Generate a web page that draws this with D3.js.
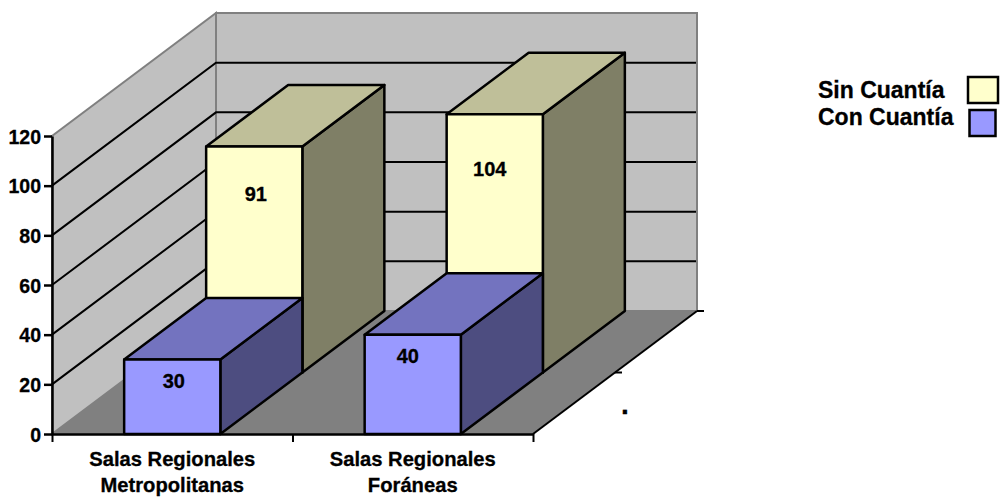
<!DOCTYPE html>
<html>
<head>
<meta charset="utf-8">
<script src="https://cdn.jsdelivr.net/npm/d3@7"></script>
<style>
    body { margin: 0; background: #fff; }
    text { font-family: "Liberation Sans", Arial, sans-serif; font-weight: bold; fill: #000; stroke: #000; stroke-width: 0.3px; }
</style>
</head>
<body>
<script>
// stacked-in-depth 3D columns, one row per series

var categories = [["Salas Regionales", "Metropolitanas"], ["Salas Regionales", "Foráneas"]];
var seriesNames = ["Con Cuantía", "Sin Cuantía"];
var conCuantia = [30, 40];
var sinCuantia = [91, 104];
var yTicks = [0, 20, 40, 60, 80, 100, 120];
var depthLabel = ".";

var seriesValues = [conCuantia, sinCuantia];
var faceColors = [
    { front: "#9999ff", top: "#7373bf", side: "#4d4d80" },
    { front: "#ffffcc", top: "#bfbf99", side: "#7f7f66" }
];

var width = 1001, height = 498;
var left = 52, right = 533, top0 = 136, bottom = 434;

var svg = d3.select("body")
    .append("svg")
    .attr("width", width)
    .attr("height", height)
    .style("display", "block");

// ---------------------------//
//       SCALES               //
// ---------------------------//

var x = d3.scaleBand()
    .domain(d3.range(categories.length))
    .range([left, right])
    .paddingInner(0.6)
    .paddingOuter(0.3);

var y = d3.scaleLinear()
    .domain([0, 120])
    .range([bottom, top0]);

// depth runs from the front of the floor (0) to the back wall (1)
var depth = d3.scaleBand()
    .domain(d3.range(seriesNames.length))
    .range([0, 1]);
var depthX = d3.scaleLinear().domain([0, 1]).range([0, 164]);
var depthY = d3.scaleLinear().domain([0, 1]).range([0, -123]);

function pt(px, py, d) {
    return [px + depthX(d), py + depthY(d)];
}

var polygon = d3.line();
function face(points) {
    return polygon(points) + "Z";
}

// ---------------------------//
//       WALLS AND FLOOR      //
// ---------------------------//

var walls = svg.append("g");

walls.append("path")
    .attr("d", face([pt(left, bottom, 0), pt(left, top0, 0), pt(left, top0, 1), pt(left, bottom, 1)]))
    .attr("fill", "#c0c0c0")
    .attr("stroke", "#808080")
    .attr("stroke-width", 2);

walls.append("path")
    .attr("d", face([pt(left, bottom, 1), pt(left, top0, 1), pt(right, top0, 1), pt(right, bottom, 1)]))
    .attr("fill", "#c0c0c0")
    .attr("stroke", "#808080")
    .attr("stroke-width", 2);

walls.append("path")
    .attr("d", face([pt(left, bottom, 0), pt(right, bottom, 0), pt(right, bottom, 1), pt(left, bottom, 1)]))
    .attr("fill", "#808080");

// gridlines on both walls
var grid = yTicks.filter(function(d) { return d > 0 && d < 120; });
walls.selectAll("path.grid")
    .data(grid)
    .enter()
    .append("path")
    .attr("class", "grid")
    .attr("d", function(d) {
        return polygon([pt(left, y(d), 0), pt(left, y(d), 1), pt(right - 1, y(d), 1)]);
    })
    .attr("fill", "none")
    .attr("stroke", "#000")
    .attr("stroke-width", 2);

// ---------------------------//
//       COLUMNS              //
// ---------------------------//

// back row first so the front row paints over it
var bars = svg.append("g");
d3.range(seriesNames.length).reverse().forEach(function(s) {
    categories.forEach(function(c, i) {
        var x0 = x(i), x1 = x(i) + x.bandwidth();
        var d0 = depth(s), d1 = depth(s) + depth.bandwidth();
        var yTop = y(seriesValues[s][i]), yBase = y(0);
        var g = bars.append("g")
            .attr("fill", "none")
            .attr("stroke", "#000")
            .attr("stroke-width", 2.5)
            .attr("stroke-linejoin", "round");

        g.append("path")
            .attr("d", face([pt(x1, yBase, d0), pt(x1, yBase, d1), pt(x1, yTop, d1), pt(x1, yTop, d0)]))
            .attr("fill", faceColors[s].side);
        g.append("path")
            .attr("d", face([pt(x0, yTop, d0), pt(x0, yTop, d1), pt(x1, yTop, d1), pt(x1, yTop, d0)]))
            .attr("fill", faceColors[s].top);
        g.append("path")
            .attr("d", face([pt(x0, yBase, d0), pt(x0, yTop, d0), pt(x1, yTop, d0), pt(x1, yBase, d0)]))
            .attr("fill", faceColors[s].front);
    });
});

// ---------------------------//
//       AXES                 //
// ---------------------------//

var yAxis = svg.append("g")
    .attr("transform", "translate(" + left + ",0)")
    .call(d3.axisLeft(y).tickValues(yTicks).tickSize(8).tickSizeOuter(0).tickPadding(3));
yAxis.selectAll("line").attr("stroke", "#000").attr("stroke-width", 2.5);
yAxis.select(".domain").attr("stroke", "#000").attr("stroke-width", 2.5);
yAxis.selectAll("text").style("font-size", "19.5px").attr("dy", "0.36em");

var xEdges = d3.scaleLinear().domain([0, categories.length]).range([left, right]);
var xAxis = svg.append("g")
    .attr("transform", "translate(0," + bottom + ")")
    .call(d3.axisBottom(xEdges).tickValues(d3.range(categories.length + 1)).tickSize(8).tickSizeOuter(0).tickFormat(""));
xAxis.selectAll("line").attr("stroke", "#000").attr("stroke-width", 2);
xAxis.select(".domain").attr("stroke", "#000").attr("stroke-width", 2.5);

// category labels, two lines each
var xLabels = svg.append("g")
    .attr("text-anchor", "middle")
    .style("font-size", "20.2px");
categories.forEach(function(lines, i) {
    lines.forEach(function(line, j) {
        xLabels.append("text")
            .attr("x", x(i) + x.bandwidth() / 2)
            .attr("y", 466 + j * 26)
            .text(line);
    });
});

// depth axis along the right edge of the floor, ticks stick out to the right
svg.append("path")
    .attr("d", polygon([pt(right, bottom, 0), pt(right, bottom, 1)]))
    .attr("stroke", "#000")
    .attr("stroke-width", 2)
    .attr("fill", "none");
svg.selectAll("line.depthTick")
    .data([0.5, 1])
    .enter()
    .append("line")
    .attr("class", "depthTick")
    .attr("x1", function(d) { return pt(right, bottom, d)[0]; })
    .attr("x2", function(d) { return pt(right, bottom, d)[0] + 7; })
    .attr("y1", function(d) { return pt(right, bottom, d)[1]; })
    .attr("y2", function(d) { return pt(right, bottom, d)[1]; })
    .attr("stroke", "#000")
    .attr("stroke-width", 2);

svg.append("text")
    .attr("x", 625)
    .attr("y", 414)
    .attr("text-anchor", "middle")
    .style("font-size", "28px")
    .text(depthLabel);

// ---------------------------//
//       VALUE LABELS         //
// ---------------------------//

var labelShift = [1.5, -5];
seriesNames.forEach(function(name, s) {
    seriesValues[s].forEach(function(v, i) {
        var base = pt(x(i) + x.bandwidth() / 2, y(0), depth(s));
        var yTop = base[1] - (y(0) - y(v));
        // yellow labels sit a quarter down the face, blue ones just under the top
        var offset = s === 1 ? (base[1] - yTop) * 0.24 : 28;
        svg.append("text")
            .attr("x", base[0] + labelShift[i])
            .attr("y", yTop + offset)
            .attr("text-anchor", "middle")
            .style("font-size", "20px")
            .text(v);
    });
});

// ---------------------------//
//       LEGEND               //
// ---------------------------//

var legendRows = [
    { series: 1, box: [968, 77, 30, 26], baseline: 98 },
    { series: 0, box: [969.5, 110, 26, 26], baseline: 125 }
];
var legend = svg.append("g");
legendRows.forEach(function(r) {
    legend.append("text")
        .attr("x", 818)
        .attr("y", r.baseline)
        .style("font-size", "23px")
        .text(seriesNames[r.series]);
    legend.append("rect")
        .attr("x", r.box[0])
        .attr("y", r.box[1])
        .attr("width", r.box[2])
        .attr("height", r.box[3])
        .attr("fill", faceColors[r.series].front)
        .attr("stroke", "#000")
        .attr("stroke-width", 2.5);
});
</script>
</body>
</html>
